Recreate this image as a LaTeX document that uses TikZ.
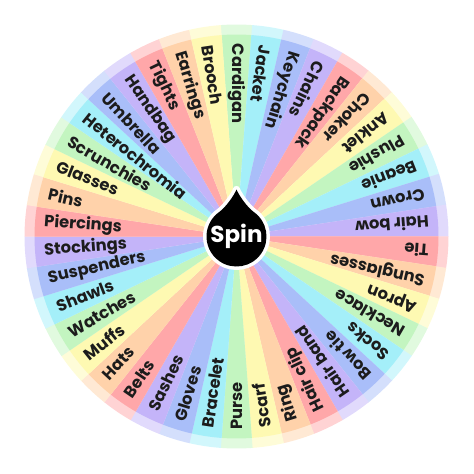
\documentclass[tikz,border=0pt]{standalone}
\usepackage{fontspec}
\setmainfont{Poppins}
\definecolor{cG}{HTML}{C3F5C0}
\definecolor{cC}{HTML}{A4EFF9}
\definecolor{cB}{HTML}{A9BEF9}
\definecolor{cP}{HTML}{C4B4F9}
\definecolor{cR}{HTML}{FFA7A9}
\definecolor{cO}{HTML}{FFD2AA}
\definecolor{cY}{HTML}{FEF9B2}
\definecolor{txt}{HTML}{1C1C1C}
\colorlet{seg0}{cG}
\colorlet{seg1}{cC}
\colorlet{seg2}{cB}
\colorlet{seg3}{cP}
\colorlet{seg4}{cR}
\colorlet{seg5}{cO}
\colorlet{seg6}{cY}
\tikzset{
  lbl/.style={text=txt, inner sep=0pt, anchor=west, font=\fontsize{16.3}{19}\selectfont\bfseries},
  spinlbl/.style={text=white, inner sep=0pt, font=\fontsize{23}{27}\selectfont\bfseries}
}
\begin{document}
\begin{tikzpicture}[x=1pt,y=1pt]
\useasboundingbox (0,0) rectangle (474,474);
\coordinate (C) at (236.5,237.5);
\foreach \lab [count=\i from 0] in {Cardigan,Jacket,Keychain,Chains,Backpack,Choker,Anklet,Plushie,Beanie,Crown,Hair bow,Tie,Sunglasses,Apron,Necklace,Socks,Bow tie,Hair band,Hair clip,Ring,Scarf,Purse,Bracelet,Gloves,Sashes,Belts,Hats,Muffs,Watches,Shawls,Suspenders,Stockings,Piercings,Pins,Glasses,Scrunchies,Heterochromia,Umbrella,Handbag,Tights,Earrings,Brooch}{
  \pgfmathsetmacro\ang{90-\i*360/42}
  \pgfmathsetmacro\aa{\ang+4.35}
  \pgfmathsetmacro\ab{\ang-4.35}
  \pgfmathtruncatemacro\ci{mod(\i,7)}
  \fill[seg\ci!50!white] (C) -- ++(\aa:212) arc[start angle=\aa, end angle=\ab, radius=212] -- cycle;
  \fill[seg\ci] (C) -- ++(\aa:202) arc[start angle=\aa, end angle=\ab, radius=202] -- cycle;
}
\foreach \lab [count=\i from 0] in {Cardigan,Jacket,Keychain,Chains,Backpack,Choker,Anklet,Plushie,Beanie,Crown,Hair bow,Tie,Sunglasses,Apron,Necklace,Socks,Bow tie,Hair band,Hair clip,Ring,Scarf,Purse,Bracelet,Gloves,Sashes,Belts,Hats,Muffs,Watches,Shawls,Suspenders,Stockings,Piercings,Pins,Glasses,Scrunchies,Heterochromia,Umbrella,Handbag,Tights,Earrings,Brooch}{
  \pgfmathsetmacro\ang{90-\i*360/42}
  \pgfmathsetmacro\rot{\ang+180}
  \node[lbl, rotate=\rot] (t\i) at ([shift={(\ang:193)}]C) {\lab};
}
\begin{scope}[shift={(236.5,237.5)}]
  \path[fill=black, preaction={draw=white, line width=7pt, line join=round}]
    (0,47) .. controls (2.5,41) and (10.5,29.5) .. (17.2,24.57)
    arc[start angle=55, end angle=-235, radius=30]
    .. controls (-10.5,29.5) and (-2.5,41) .. cycle;
  \node[spinlbl] (spin) at (0,0) {Spin};
\end{scope}
\end{tikzpicture}
\end{document}
